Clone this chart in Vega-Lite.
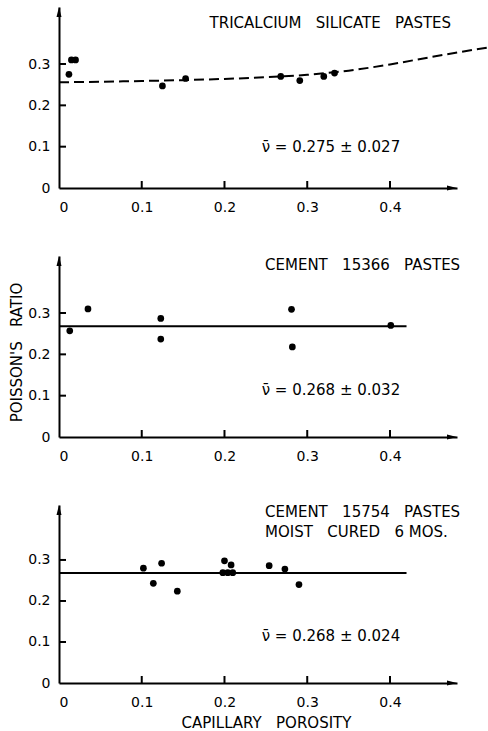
{
  "$schema": "https://vega.github.io/schema/vega-lite/v6.json",
  "padding": {"left": 9, "top": 7, "right": 0, "bottom": 0},
  "spacing": 68,
  "bounds": "flush",
  "datasets": {
    "c3s": [
      {"porosity": 0.012, "ratio": 0.275},
      {"porosity": 0.015, "ratio": 0.31},
      {"porosity": 0.020, "ratio": 0.31},
      {"porosity": 0.125, "ratio": 0.247},
      {"porosity": 0.153, "ratio": 0.265},
      {"porosity": 0.268, "ratio": 0.27},
      {"porosity": 0.291, "ratio": 0.26},
      {"porosity": 0.320, "ratio": 0.27},
      {"porosity": 0.333, "ratio": 0.278}
    ],
    "c3s_trend": [
      {"porosity": 0, "ratio": 0.256},
      {"porosity": 0.05, "ratio": 0.257},
      {"porosity": 0.1, "ratio": 0.259},
      {"porosity": 0.15, "ratio": 0.261},
      {"porosity": 0.2, "ratio": 0.264},
      {"porosity": 0.25, "ratio": 0.268},
      {"porosity": 0.3, "ratio": 0.274},
      {"porosity": 0.35, "ratio": 0.284},
      {"porosity": 0.4, "ratio": 0.299},
      {"porosity": 0.45, "ratio": 0.317},
      {"porosity": 0.5, "ratio": 0.334},
      {"porosity": 0.518, "ratio": 0.34}
    ],
    "c15366": [
      {"porosity": 0.013, "ratio": 0.257},
      {"porosity": 0.035, "ratio": 0.31},
      {"porosity": 0.123, "ratio": 0.287},
      {"porosity": 0.123, "ratio": 0.237},
      {"porosity": 0.281, "ratio": 0.309},
      {"porosity": 0.282, "ratio": 0.218},
      {"porosity": 0.401, "ratio": 0.27}
    ],
    "c15754": [
      {"porosity": 0.102, "ratio": 0.28},
      {"porosity": 0.114, "ratio": 0.243},
      {"porosity": 0.124, "ratio": 0.292},
      {"porosity": 0.143, "ratio": 0.224},
      {"porosity": 0.200, "ratio": 0.298},
      {"porosity": 0.208, "ratio": 0.288},
      {"porosity": 0.198, "ratio": 0.269},
      {"porosity": 0.204, "ratio": 0.269},
      {"porosity": 0.210, "ratio": 0.269},
      {"porosity": 0.254, "ratio": 0.286},
      {"porosity": 0.273, "ratio": 0.278},
      {"porosity": 0.290, "ratio": 0.24}
    ],
    "mean_15366": [
      {"porosity": 0, "ratio": 0.268},
      {"porosity": 0.42, "ratio": 0.268}
    ],
    "mean_15754": [
      {"porosity": 0, "ratio": 0.268},
      {"porosity": 0.42, "ratio": 0.268}
    ],
    "ends_a": [
      {"porosity": 0.481, "ratio": 0, "axis": "x"},
      {"porosity": 0, "ratio": 0.438, "axis": "y"}
    ],
    "ends_b": [
      {"porosity": 0.481, "ratio": 0, "axis": "x"},
      {"porosity": 0, "ratio": 0.434, "axis": "y"}
    ],
    "xticks": [
      {"porosity": 0.1, "ratio": 0},
      {"porosity": 0.2, "ratio": 0},
      {"porosity": 0.3, "ratio": 0},
      {"porosity": 0.4, "ratio": 0}
    ],
    "yticks": [
      {"porosity": 0, "ratio": 0.1},
      {"porosity": 0, "ratio": 0.2},
      {"porosity": 0, "ratio": 0.3}
    ],
    "notes_c3s": [
      {"porosity": 0.182, "ratio": 0.387, "label": "TRICALCIUM\u00a0\u00a0\u00a0SILICATE\u00a0\u00a0\u00a0PASTES"},
      {"porosity": 0.245, "ratio": 0.088, "label": "\u03bd\u0304 = 0.275 \u00b1 0.027"}
    ],
    "notes_15366": [
      {"porosity": 0.249, "ratio": 0.405, "label": "CEMENT\u00a0\u00a0\u00a015366\u00a0\u00a0\u00a0PASTES"},
      {"porosity": 0.245, "ratio": 0.101, "label": "\u03bd\u0304 = 0.268 \u00b1 0.032"}
    ],
    "notes_15754": [
      {"porosity": 0.249, "ratio": 0.404, "label": "CEMENT\u00a0\u00a0\u00a015754\u00a0\u00a0\u00a0PASTES"},
      {"porosity": 0.249, "ratio": 0.355, "label": "MOIST\u00a0\u00a0\u00a0CURED\u00a0\u00a0\u00a06\u00a0MOS."},
      {"porosity": 0.245, "ratio": 0.102, "label": "\u03bd\u0304 = 0.268 \u00b1 0.024"}
    ]
  },
  "vconcat": [
    {
      "width": 398,
      "height": 181,
      "encoding": {
        "x": {"field": "porosity", "type": "quantitative",
              "scale": {"domain": [0, 0.481], "nice": false},
              "axis": {"values": [0, 0.1, 0.2, 0.3, 0.4], "title": null}},
        "y": {"field": "ratio", "type": "quantitative",
              "scale": {"domain": [0, 0.438], "nice": false},
              "axis": {"values": [0, 0.1, 0.2, 0.3], "title": null}}
      },
      "layer": [
        {"data": {"name": "xticks"},
         "mark": {"type": "tick", "orient": "vertical", "size": 7, "thickness": 2, "yOffset": -3.5, "color": "black", "opacity": 1}},
        {"data": {"name": "yticks"},
         "mark": {"type": "tick", "orient": "horizontal", "size": 7, "thickness": 2, "xOffset": 3.5, "color": "black", "opacity": 1}},
        {"data": {"name": "c3s_trend"},
         "mark": {"type": "line", "interpolate": "monotone", "color": "black", "strokeWidth": 2, "strokeDash": [10, 5]}},
        {"data": {"name": "c3s"},
         "mark": {"type": "circle", "size": 45, "color": "black", "opacity": 1}},
        {"data": {"name": "ends_a"},
         "mark": {"type": "point", "filled": true, "color": "black", "opacity": 1, "size": 400},
         "encoding": {"shape": {"field": "axis", "type": "nominal", "legend": null,
           "scale": {"domain": ["x", "y"], "range": ["M 0 0 L -1 -0.25 L -1 0.25 Z", "M 0 0 L -0.25 1 L 0.25 1 Z"]}}}},
        {"data": {"name": "notes_c3s"},
         "mark": {"type": "text", "align": "left", "baseline": "alphabetic", "font": "DejaVu Sans", "fontSize": 15, "color": "black"},
         "encoding": {"text": {"field": "label"}}}
      ]
    },
    {
      "width": 398,
      "height": 181,
      "encoding": {
        "x": {"field": "porosity", "type": "quantitative",
              "scale": {"domain": [0, 0.481], "nice": false},
              "axis": {"values": [0, 0.1, 0.2, 0.3, 0.4], "title": null}},
        "y": {"field": "ratio", "type": "quantitative",
              "scale": {"domain": [0, 0.438], "nice": false},
              "axis": {"values": [0, 0.1, 0.2, 0.3], "title": "POISSON'S\u00a0\u00a0\u00a0RATIO", "titleY": 96}}
      },
      "layer": [
        {"data": {"name": "xticks"},
         "mark": {"type": "tick", "orient": "vertical", "size": 7, "thickness": 2, "yOffset": -3.5, "color": "black", "opacity": 1}},
        {"data": {"name": "yticks"},
         "mark": {"type": "tick", "orient": "horizontal", "size": 7, "thickness": 2, "xOffset": 3.5, "color": "black", "opacity": 1}},
        {"data": {"name": "mean_15366"},
         "mark": {"type": "line", "color": "black", "strokeWidth": 2}},
        {"data": {"name": "c15366"},
         "mark": {"type": "circle", "size": 45, "color": "black", "opacity": 1}},
        {"data": {"name": "ends_a"},
         "mark": {"type": "point", "filled": true, "color": "black", "opacity": 1, "size": 400},
         "encoding": {"shape": {"field": "axis", "type": "nominal", "legend": null,
           "scale": {"domain": ["x", "y"], "range": ["M 0 0 L -1 -0.25 L -1 0.25 Z", "M 0 0 L -0.25 1 L 0.25 1 Z"]}}}},
        {"data": {"name": "notes_15366"},
         "mark": {"type": "text", "align": "left", "baseline": "alphabetic", "font": "DejaVu Sans", "fontSize": 15, "color": "black"},
         "encoding": {"text": {"field": "label"}}}
      ]
    },
    {
      "width": 398,
      "height": 178,
      "encoding": {
        "x": {"field": "porosity", "type": "quantitative",
              "scale": {"domain": [0, 0.481], "nice": false},
              "axis": {"values": [0, 0.1, 0.2, 0.3, 0.4], "title": "CAPILLARY\u00a0\u00a0\u00a0POROSITY", "titleX": 207}},
        "y": {"field": "ratio", "type": "quantitative",
              "scale": {"domain": [0, 0.434], "nice": false},
              "axis": {"values": [0, 0.1, 0.2, 0.3], "title": null}}
      },
      "layer": [
        {"data": {"name": "xticks"},
         "mark": {"type": "tick", "orient": "vertical", "size": 7, "thickness": 2, "yOffset": -3.5, "color": "black", "opacity": 1}},
        {"data": {"name": "yticks"},
         "mark": {"type": "tick", "orient": "horizontal", "size": 7, "thickness": 2, "xOffset": 3.5, "color": "black", "opacity": 1}},
        {"data": {"name": "mean_15754"},
         "mark": {"type": "line", "color": "black", "strokeWidth": 2}},
        {"data": {"name": "c15754"},
         "mark": {"type": "circle", "size": 45, "color": "black", "opacity": 1}},
        {"data": {"name": "ends_b"},
         "mark": {"type": "point", "filled": true, "color": "black", "opacity": 1, "size": 400},
         "encoding": {"shape": {"field": "axis", "type": "nominal", "legend": null,
           "scale": {"domain": ["x", "y"], "range": ["M 0 0 L -1 -0.25 L -1 0.25 Z", "M 0 0 L -0.25 1 L 0.25 1 Z"]}}}},
        {"data": {"name": "notes_15754"},
         "mark": {"type": "text", "align": "left", "baseline": "alphabetic", "font": "DejaVu Sans", "fontSize": 15, "color": "black"},
         "encoding": {"text": {"field": "label"}}}
      ]
    }
  ],
  "config": {
    "view": {"stroke": null},
    "axis": {
      "grid": false,
      "domainColor": "black",
      "domainWidth": 2,
      "ticks": false,
      "tickSize": 0,
      "labelFont": "DejaVu Sans",
      "labelFontSize": 14,
      "labelColor": "black",
      "labelExpr": "datum.value === 0 ? '0' : format(datum.value, '.1f')",
      "titleFont": "DejaVu Sans",
      "titleFontSize": 15,
      "titleFontWeight": "normal",
      "titleColor": "black"
    },
    "axisX": {"labelPadding": 12, "titlePadding": 6},
    "axisY": {"labelPadding": 9, "titlePadding": 3}
  }
}
